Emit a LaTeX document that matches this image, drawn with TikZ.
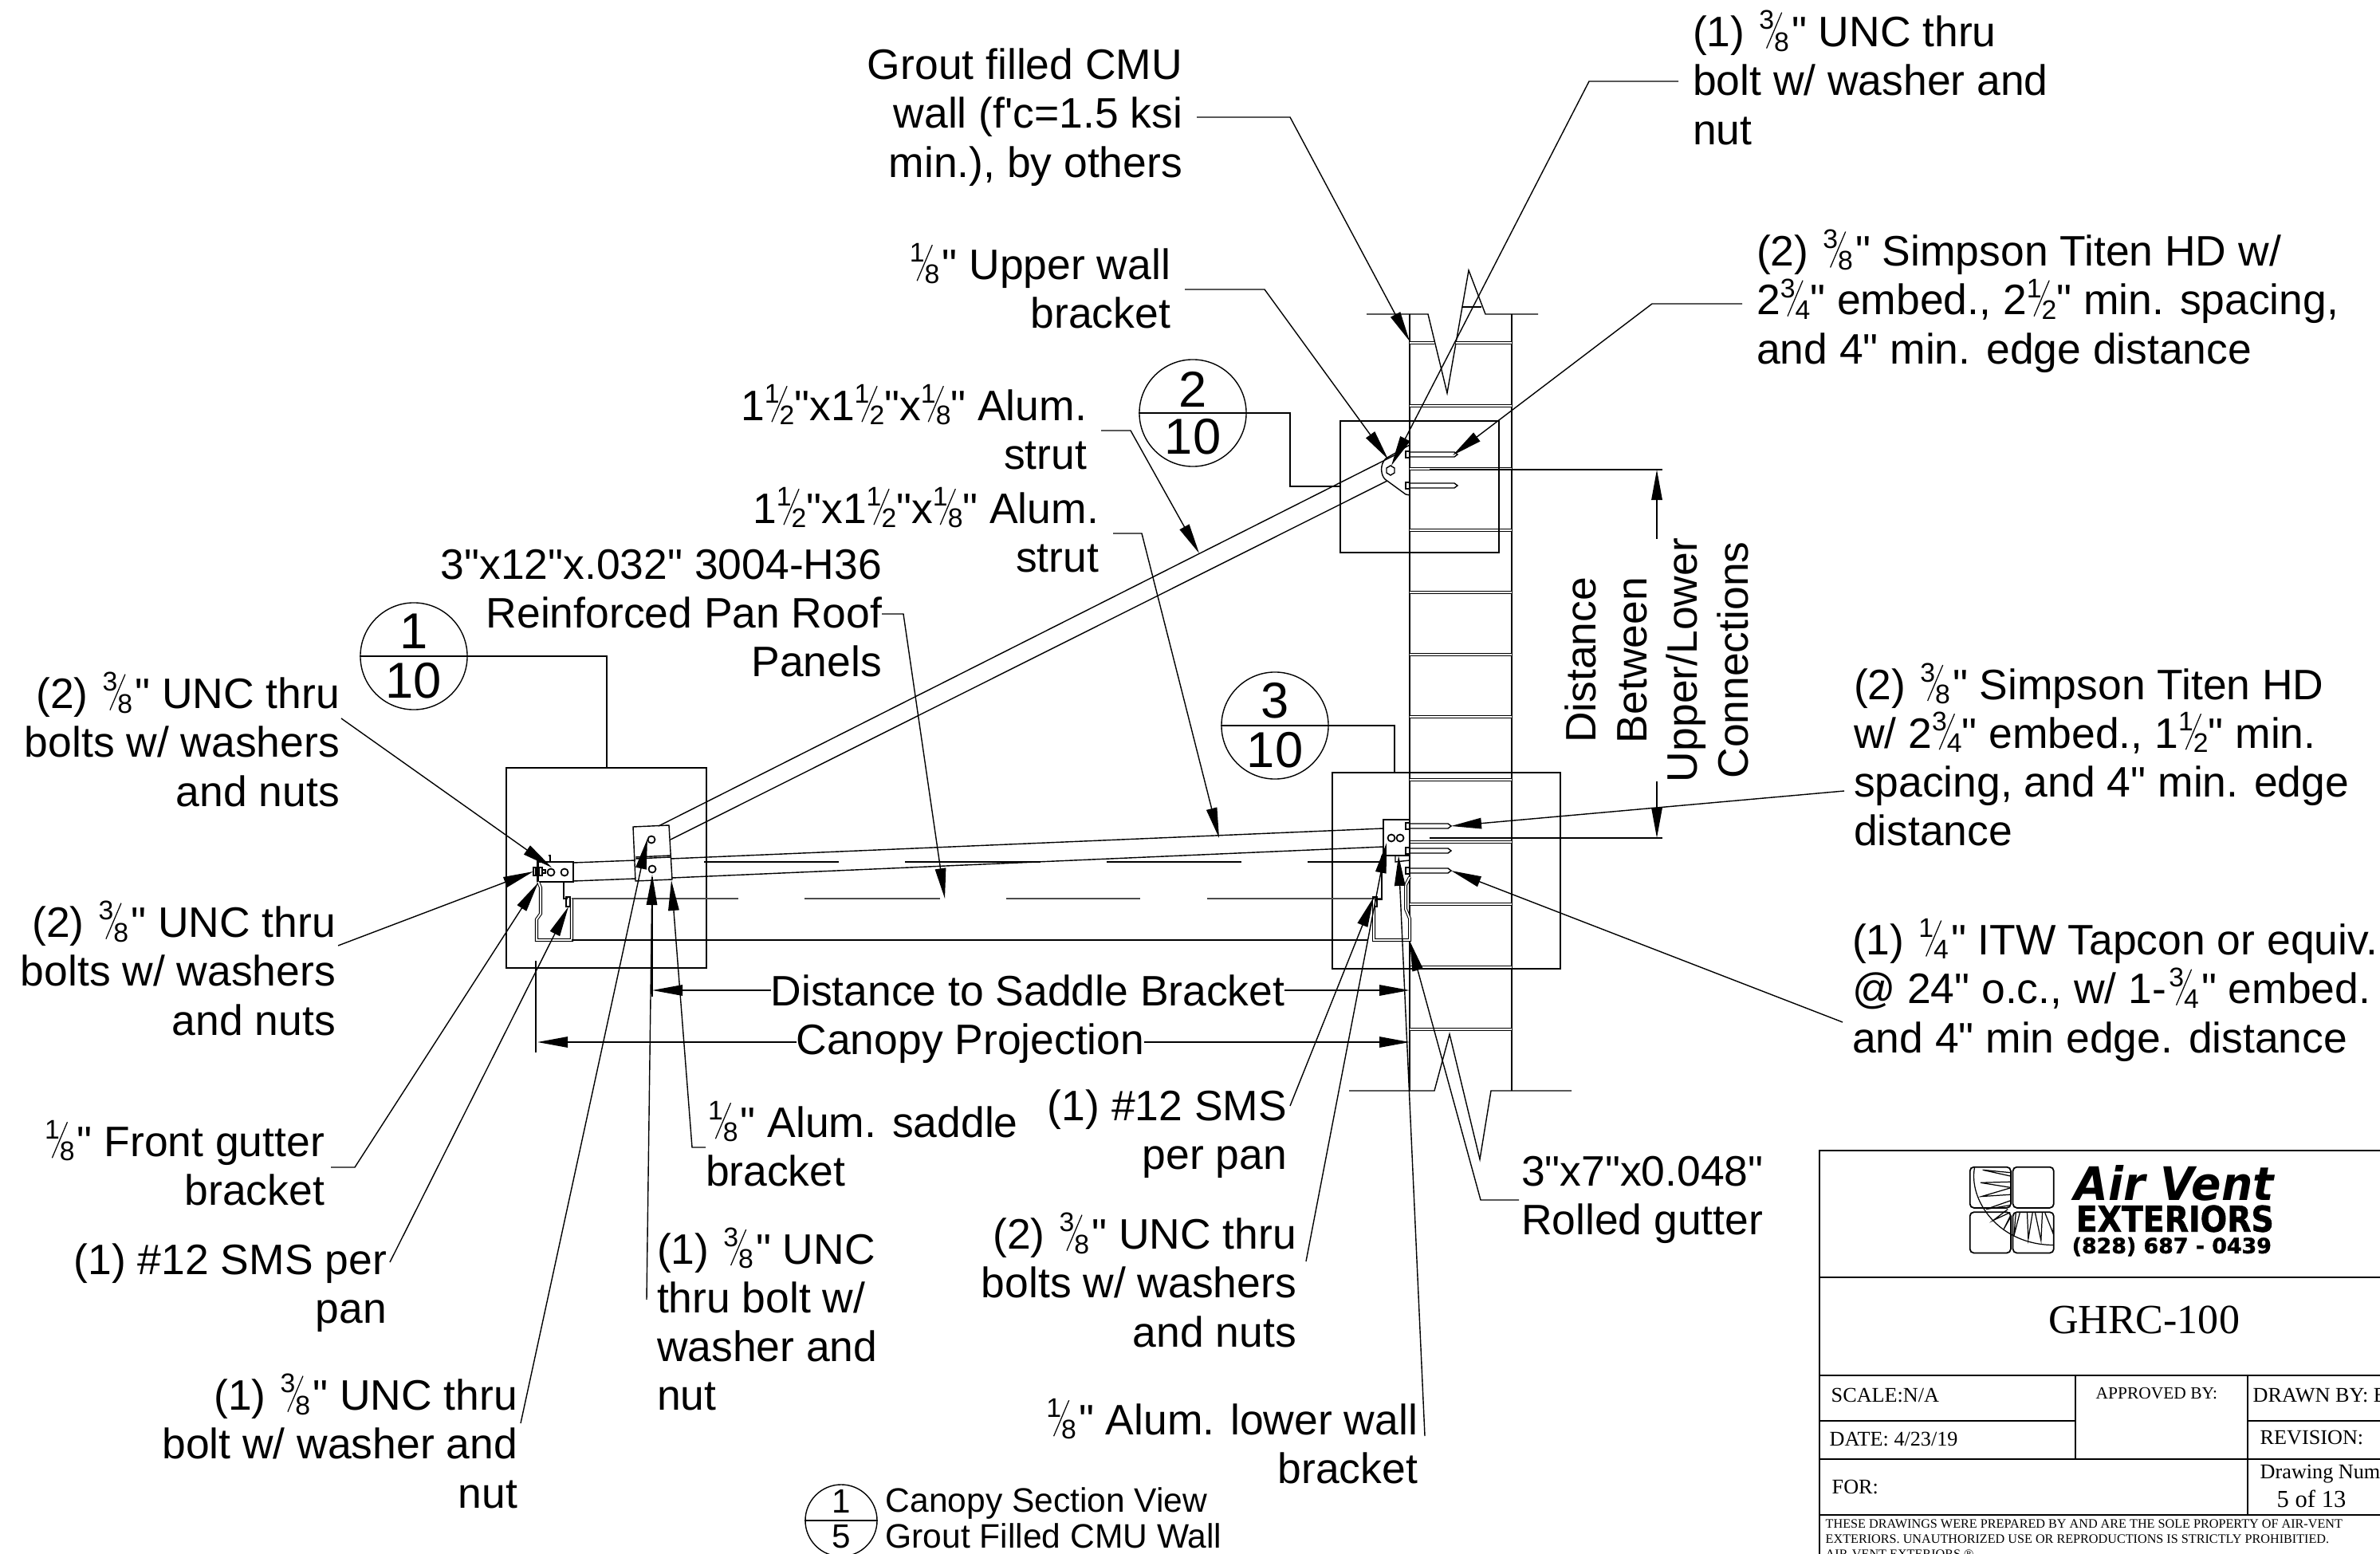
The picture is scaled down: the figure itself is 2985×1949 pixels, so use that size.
\documentclass[tikz,border=0pt]{standalone}
\usepackage{fontspec}
\newfontfamily\labelfont{Liberation Sans}
\newfontfamily\blockfont{Liberation Serif}
\newfontfamily\logofont{DejaVu Sans}[BoldFeatures={FakeBold=1.5}]
\usetikzlibrary{arrows.meta}
\newcommand{\fr}[2]{\raisebox{6.2pt}[0pt][0pt]{\fontsize{9.6}{9.6}\selectfont #1}\makebox[0pt]{\raisebox{-.6pt}[0pt][0pt]{\rotatebox{67}{\rule{13.9pt}{.35pt}}}}\raisebox{-1.5pt}[0pt][0pt]{\fontsize{9.6}{9.6}\selectfont #2}}
\newcommand{\frk}[2]{\kern.9pt\fr{#1}{#2}\kern.9pt}
\tikzset{
  lbl/.style={inner sep=0pt,outer sep=.18cm,font=\labelfont\fontsize{15.2}{17.4}\selectfont,execute at begin node={\rule{0pt}{16.2pt}},execute at end node={\rule[-.8pt]{0pt}{1pt}}},
  lblr/.style={lbl,anchor=east,align=right},
  lbll/.style={lbl,anchor=west,align=left},
  lead/.style={-{Triangle[length=3.8mm,width=1.35mm]}},
  joint/.style={double,double distance=.7pt,line width=.3pt},
  gutter/.style={double,double distance=.55pt,line width=.3pt},
  wall/.style={line width=.6pt},
  bubble/.style={circle,draw,inner sep=0pt,minimum size=1.34cm},
  hole/.style={circle,draw,line width=.5pt,inner sep=0pt,minimum size=.09cm},
  tb/.style={anchor=west,inner sep=0pt,font=\blockfont\fontsize{7.45}{9}\selectfont},
}
\begin{document}
\begin{tikzpicture}[x=.01cm,y=-.01cm]
  \useasboundingbox (0,0) rectangle (2985,1949);
  % wall
  \draw [wall] (1768,394) -- (1768,1368);
  \draw [wall] (1896,394) -- (1896,1368);
  \draw (1714,394) -- (1791,394) -- (1815,493) -- (1842,339) -- (1863,394) -- (1929,394);
  \draw (1692,1368) -- (1799,1368) -- (1818,1297) -- (1856,1454) -- (1870,1368) -- (1971,1368);
  \draw (1834,385) -- (1858,385);
  \draw [joint] (1768,430) -- (1799,430);
  \draw [joint] (1826,430) -- (1896,430);
  \foreach \y in {509,588,665,743,821,899,978,1056,1134,1213,1291}
    \draw [joint] (1768,\y) -- (1896,\y);
  % anchors
  \foreach \y/\x in {570/1828,609/1828,1036/1820,1067/1820,1092/1820} {
    \draw (1768,\y-3) -- (\x-4,\y-3) -- (\x,\y) -- (\x-4,\y+3) -- (1768,\y+3);
    \draw (1763,\y-4) rectangle (1768,\y+4);
  }
  % detail boxes
  \draw (635,963) rectangle (886,1214);
  \draw (1681,528) rectangle (1880,693);
  \draw (1671,969) rectangle (1957,1215);
  \foreach \n/\x/\y/\a/\b/\dy in {A/519/823/1/10/31,B/1496/518/2/10/30,C/1599/910/3/10/31} {
    \node [bubble] (bub\n) at (\x,\y) {};
    \draw (bub\n.west) -- (bub\n.east);
    \node [font=\labelfont\fontsize{18}{18}\selectfont,inner sep=0pt] (bub\n top) at (\x,\y-\dy) {\a};
    \node [font=\labelfont\fontsize{18}{18}\selectfont,inner sep=0pt] (bub\n bot) at (\x,\y+\dy) {\b};
  }
  \draw (bubA.east) -- (761,823) -- (761,963);
  \draw (bubB.east) -- (1618,518) -- (1618,610) -- (1681,610);
  \draw (bubC.east) -- (1749,910) -- (1749,969);
  % front gutter and pan
  \draw (675,1081) rectangle (719,1106);
  \draw [wall] (674,1076) -- (674,1106);
  \draw (669,1088) rectangle (672,1098);
  \draw (676,1088) rectangle (680,1098);
  \draw (680,1091) rectangle (684,1095);
  \draw (675,1081) -- (690,1081) -- (690,1073) -- (688,1073);
  \node [hole] (frontA) at (691,1094) {};
  \node [hole] (frontB) at (708,1094) {};
  \draw (707,1106) -- (707,1127) -- (712,1127);
  \draw (710,1125) rectangle (715,1137);
  \draw [gutter] (675,1106) -- (678,1113) -- (678,1146) -- (673,1153) -- (673,1179) -- (717,1179) -- (717,1127);
  \draw [wall] (717,1179) -- (1716,1179);
  \draw [wall] (672,1205) -- (672,1320);
  \foreach \a/\b in {717/926,1009/1179,1262/1430,1514/1732}
    \draw [line width=.5pt,black!70] (\a,1127) -- (\b,1127);
  \foreach \a/\b in {883/1052,1135/1305,1388/1557,1640/1730}
    \draw (\a,1081) -- (\b,1081);
  % struts
  \draw (719,1082) -- (797,1079);
  \draw (719,1105) -- (797,1102);
  \draw (841,1077) -- (1735,1039);
  \draw (843,1101) -- (1735,1062);
  \draw (826,1036) -- (1749,571);
  \draw (841,1053) -- (1740,603);
  % saddle bracket
  \draw (794,1037) -- (839,1035) -- (843,1103) -- (797,1105) -- cycle;
  \draw (797,1075) -- (841,1073);
  \draw (797,1077) -- (841,1075);
  \node [hole] (saddleA) at (817,1053) {};
  \node [hole] (saddleB) at (818,1090) {};
  % upper bracket
  \draw (1768,558) -- (1738,575) .. controls (1730,583) and (1732,596) .. (1737,601) -- (1763,620) -- (1768,621);
  \draw (1744,584) -- (1749,587) -- (1749,593) -- (1744,596) -- (1739,593) -- (1739,587) -- cycle;
  % lower bracket and back gutter
  \draw (1735,1028) rectangle (1768,1073);
  \draw (1750,1074) -- (1750,1081) -- (1768,1079);
  \node [hole] (lowerA) at (1745,1051) {};
  \node [hole] (lowerB) at (1756,1051) {};
  \draw (1733,1073) -- (1733,1128) -- (1725,1128);
  \draw (1722,1125) rectangle (1727,1137);
  \draw [gutter] (1768,1100) -- (1763,1110) -- (1763,1140) -- (1768,1152) -- (1768,1179) -- (1723,1179) -- (1723,1128);
  % labels
  \node [lblr] (lblGrout) at (1501,147) {Grout filled CMU\\wall (f'c=1.5 ksi\\min.), by others};
  \node [lblr] (lblUpper) at (1486,363) {\frk{1}{8}" Upper wall\\bracket};
  \node [lblr] (lblStrutA) at (1381,540) {1\fr{1}{2}"x1\fr{1}{2}"x\fr{1}{8}" Alum.\\strut};
  \node [lblr] (lblStrutB) at (1396,669) {1\fr{1}{2}"x1\fr{1}{2}"x\fr{1}{8}" Alum.\\strut};
  \node [lblr,outer sep=0pt] (lblPan) at (1106,770) {3"x12"x.032" 3004-H36\\Reinforced Pan Roof\\Panels};
  \node [lblr] (lblBoltsA) at (444,932) {(2) \frk{3}{8}" UNC thru\\bolts w/ washers\\and nuts};
  \node [lblr] (lblBoltsB) at (439,1219) {(2) \frk{3}{8}" UNC thru\\bolts w/ washers\\and nuts};
  \node [lblr,outer sep=.08cm] (lblFront) at (415,1464) {\frk{1}{8}" Front gutter\\bracket};
  \node [lblr] (lblSmsA) at (503,1615) {(1) \#12 SMS per\\pan};
  \node [lblr] (lblBoltA) at (667,1812) {(1) \frk{3}{8}" UNC thru\\bolt w/ washer and\\nut};
  \node [lblr] (lblSmsB) at (1632,1422) {(1) \#12 SMS\\per pan};
  \node [lblr] (lblBoltsC) at (1644,1610) {(2) \frk{3}{8}" UNC thru\\bolts w/ washers\\and nuts};
  \node [lblr] (lblLower) at (1796,1812) {\frk{1}{8}" Alum. lower wall\\bracket};
  \node [lbll] (lblBoltB) at (2105,102) {(1) \frk{3}{8}" UNC thru\\bolt w/ washer and\\nut};
  \node [lbll] (lblTitenA) at (2185,381) {(2) \frk{3}{8}" Simpson Titen HD w/\\2\fr{3}{4}" embed., 2\fr{1}{2}" min. spacing,\\and 4" min. edge distance};
  \node [lbll] (lblTitenB) at (2307,951) {(2) \frk{3}{8}" Simpson Titen HD\\w/ 2\fr{3}{4}" embed., 1\fr{1}{2}" min.\\spacing, and 4" min. edge\\distance};
  \node [lbll] (lblTapcon) at (2305,1245) {(1) \frk{1}{4}" ITW Tapcon or equiv.\\@ 24" o.c., w/ 1-\frk{3}{4}" embed.\\and 4" min edge. distance};
  \node [lbll,outer sep=.03cm] (lblRolled) at (1905,1505) {3"x7"x0.048"\\Rolled gutter};
  \node [lbll,outer sep=0pt] (lblSaddle) at (885,1439) {\frk{1}{8}" Alum. saddle\\bracket};
  \node [lbll] (lblBoltC) at (806,1659) {(1) \frk{3}{8}" UNC\\thru bolt w/\\washer and\\nut};
  \node [lbl,rotate=90,align=center,outer sep=0pt,font=\labelfont\fontsize{15.2}{18.1}\selectfont] (lblDist) at (2079,828) {Distance\\Between\\Upper/Lower\\Connections};
  % leader ends
  \coordinate (endBoltsA) at (428,901);
  \coordinate (endBoltsB) at (424,1186);
  \coordinate (endSmsA) at (489,1583);
  \coordinate (endBoltA) at (653,1785);
  \coordinate (endBoltC) at (811,1630);
  \coordinate (endSmsB) at (1618,1387);
  \coordinate (endBoltsC) at (1638,1582);
  \coordinate (endLower) at (1787,1801);
  \coordinate (endTitenB) at (2313,992);
  \coordinate (endTapcon) at (2311,1282);
  % leaders
  \draw [lead] (lblGrout.east) -- ++(117,0) -- (1768,428);
  \draw [lead] (lblUpper.east) -- ++(100,0) -- (1741,576);
  \draw [lead] (lblStrutA.east) -- ++(37,0) -- (1504,694);
  \draw [lead] (lblStrutB.east) -- ++(36,0) -- (1529,1051);
  \draw [lead] (lblPan.east) -- ++(27,0) -- (1185,1127);
  \draw [lead] (lblBoltB.west) -- ++(-112,0) -- (1745,584);
  \draw [lead] (lblTitenA.west) -- ++(-113,0) -- (1822,571);
  \draw [lead] (endTitenB) -- (1820,1036);
  \draw [lead] (endTapcon) -- (1820,1092);
  \draw [lead] (lblRolled.west) -- ++(-48,0) -- (1768,1180);
  \draw [lead] (endLower) -- (1754,1073);
  \draw [lead] (endBoltsC) -- (1739,1057);
  \draw [lead] (endSmsB) -- (1723,1125);
  \draw [lead] (lblSaddle.west) -- ++(-17,0) -- (842,1104);
  \draw [lead] (endBoltC) -- (818,1097);
  \draw [lead] (endBoltA) -- (812,1052);
  \draw [lead] (endSmsA) -- (713,1137);
  \draw [lead] (lblFront.east) -- ++(30,0) -- (675,1107);
  \draw [lead] (endBoltsB) -- (669,1093);
  \draw [lead] (endBoltsA) -- (692,1088);
  % dimensions
  \draw (1793,589) -- (2085,589);
  \draw (1793,1051) -- (2085,1051);
  \draw [lead] (2078,676) -- (2078,589);
  \draw [lead] (2078,980) -- (2078,1051);
  \draw [line width=.8pt] (818,1100) -- (818,1250);
  \draw [line width=.8pt] (1768,1205) -- (1768,1252);
  \node [lbl,outer sep=0pt,anchor=center] (dimSaddle) at (1289,1234) {Distance to Saddle Bracket};
  \node [lbl,outer sep=0pt,anchor=center] (dimCanopy) at (1217,1300) {Canopy Projection};
  \draw [lead] (dimSaddle.west |- 0,1242) -- (818,1242);
  \draw [lead] (dimSaddle.east |- 0,1242) -- (1768,1242);
  \draw [lead] (dimCanopy.west |- 0,1307) -- (674,1307);
  \draw [lead] (dimCanopy.east |- 0,1307) -- (1768,1307);
  % view title
  \node [circle,draw,inner sep=0pt,minimum size=.9cm] (bubD) at (1055,1907) {};
  \draw (bubD.west) -- (bubD.east);
  \node [font=\labelfont\fontsize{12}{12}\selectfont,inner sep=0pt] (bubDtop) at (1055,1883) {1};
  \node [font=\labelfont\fontsize{12}{12}\selectfont,inner sep=0pt] (bubDbot) at (1055,1927) {5};
  \node [anchor=west,inner sep=0pt,font=\labelfont\fontsize{12.1}{13}\selectfont] (viewA) at (1110,1885) {Canopy Section View};
  \node [anchor=west,inner sep=0pt,font=\labelfont\fontsize{12.1}{13}\selectfont] (viewB) at (1110,1926) {Grout Filled CMU Wall};
  % title block
  \draw (2985,1443) -- (2282,1443) -- (2282,1949);
  \draw (2282,1602) -- (2985,1602);
  \draw (2282,1725) -- (2985,1725);
  \draw (2282,1782) -- (2603,1782);
  \draw (2819,1782) -- (2985,1782);
  \draw (2282,1830) -- (2985,1830);
  \draw (2282,1900) -- (2985,1900);
  \draw (2603,1725) -- (2603,1830);
  \draw (2819,1725) -- (2819,1900);
  \node [tb,anchor=center,font=\blockfont\fontsize{14.8}{16}\selectfont] (titleName) at (2689,1655) {GHRC-100};
  \node [tb] (tbScale) at (2296,1750) {SCALE:N/A};
  \node [tb,font=\blockfont\fontsize{6.1}{8}\selectfont] (tbApproved) at (2628,1748) {APPROVED BY:};
  \node [tb] (tbDrawn) at (2825,1750) {DRAWN BY: B};
  \node [tb] (tbDate) at (2294,1805) {DATE: 4/23/19};
  \node [tb] (tbRevision) at (2834,1803) {REVISION:};
  \node [tb] (tbFor) at (2297,1865) {FOR:};
  \node [tb] (tbNumber) at (2834,1848) {Drawing Number};
  \node [tb,font=\blockfont\fontsize{8.7}{10}\selectfont] (tbSheet) at (2855,1880) {5 of 13};
  \node [tb,anchor=north west,align=left,font=\blockfont\fontsize{4.6}{5.4}\selectfont] (tbNote) at (2289,1905) {THESE DRAWINGS WERE PREPARED BY AND ARE THE SOLE PROPERTY OF AIR-VENT\\EXTERIORS. UNAUTHORIZED USE OR REPRODUCTIONS IS STRICTLY PROHIBITIED.\\AIR-VENT EXTERIORS \textregistered};
  % logo
  \begin{scope}[shift={(2450,1450)},x=.003333cm,y=-.003333cm,line width=.5pt]
    \foreach \a/\b in {62/41,224/41,62/211,224/211}
      \draw [rounded corners=.05cm] (\a,\b) rectangle (\a+154,\b+154);
    \draw [line width=.35pt] (80,41) .. controls (55,165) and (170,335) .. (378,335);
    \foreach \tx/\ty/\ax/\ay/\bx/\by in {110/52/214/62/214/75,102/100/214/97/214/118,106/152/214/120/214/145,123/200/214/168/214/185,150/242/205/200/214/212,188/278/214/232/216/222,228/300/250/214/235/215,282/312/278/214/298/214,330/318/308/214/335/214,376/292/345/214/376/270}
      \draw [line width=.35pt] (\ax,\ay) -- (\tx,\ty) -- (\bx,\by);
  \end{scope}
  \node [anchor=south west,inner sep=0pt] (logoA) at (2601,1507) {\resizebox{2.5cm}{.44cm}{\logofont\bfseries\itshape Air Vent}};
  \node [anchor=south west,inner sep=0pt] (logoB) at (2603,1546) {\resizebox{2.48cm}{.33cm}{\logofont\bfseries EXTERIORS}};
  \node [anchor=south west,inner sep=0pt] (logoC) at (2598,1576) {\resizebox{2.5cm}{.2cm}{\logofont\bfseries (828) 687 - 0439}};
\end{tikzpicture}
\end{document}
